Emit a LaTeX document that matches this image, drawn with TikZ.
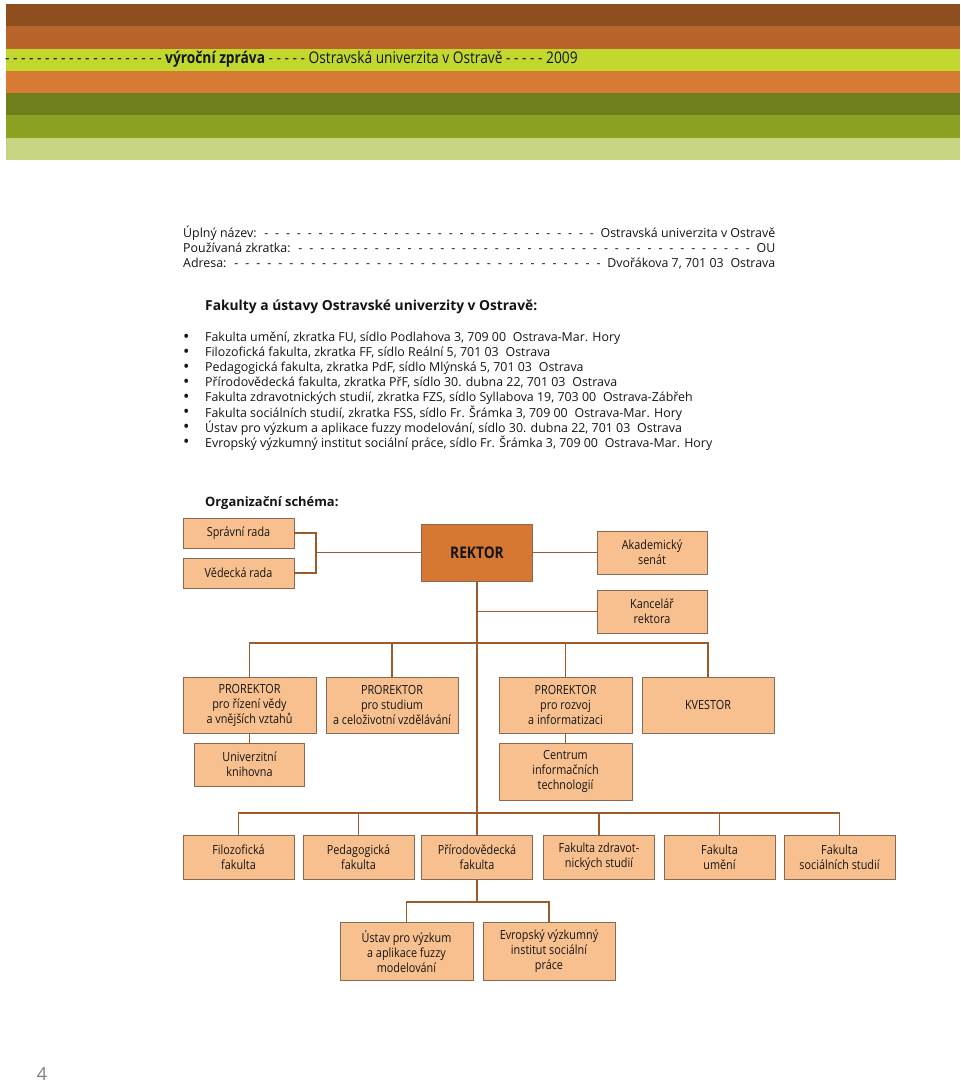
\documentclass[tikz,border=0pt]{standalone}
\usepackage{fontspec}
\setmainfont{Open Sans}
\newfontfamily\condfont[FakeStretch=0.86]{Open Sans}
\definecolor{BandA}{HTML}{8E4E1E}
\definecolor{BandB}{HTML}{B8652B}
\definecolor{BandC}{HTML}{C3D82F}
\definecolor{BandD}{HTML}{D77A33}
\definecolor{BandE}{HTML}{6E7F1B}
\definecolor{BandF}{HTML}{8CA222}
\definecolor{BandG}{HTML}{C7D582}
\definecolor{BoxFill}{HTML}{F9C08F}
\definecolor{BoxLine}{HTML}{8A6A55}
\definecolor{Link}{HTML}{9C5B2B}
\definecolor{Rektor}{HTML}{D77832}
\definecolor{Ink}{HTML}{141414}
\usetikzlibrary{arrows.meta}

\newcommand{\dashfill}{\xleaders\hbox to 10.7pt{\hss-\hss}\hfill}
\newcommand{\twosp}{\hspace{0.55em}}

\begin{document}
\begin{tikzpicture}[x=1pt,y=-1pt,
    box/.style={draw=BoxLine,fill=BoxFill,line width=0.8pt,align=center,inner sep=1pt,
        font=\condfont\fontsize{12.6}{15}\selectfont,text=Ink},
    link/.style={draw=Link,line width=1.4pt},
    line/.style={anchor=west,inner sep=0pt,text=Ink,font=\fontsize{12.4}{15}\selectfont}]
    \useasboundingbox (0,0) rectangle (960,1083);

    % Colour bands
    \foreach \c [count=\i from 0] in {BandA,BandB,BandC,BandD,BandE,BandF,BandG}
        \fill[\c] (6,{4+22.3*\i}) rectangle (960,{4+22.3*(\i+1)});
    \node[anchor=west,inner sep=0pt,text=Ink,font=\condfont\fontsize{16}{18}\selectfont] (title) at (5,59)
        {- - - - - - - - - - - - - - - - - - - - \textbf{výroční zpráva} - - - - - Ostravská univerzita v Ostravě - - - - - 2009};

    % Basic data
    \node[line] (fullname) at (183,233) {\hbox to 592pt{Úplný název: \dashfill\ Ostravská univerzita v Ostravě}};
    \node[line] (abbrev) at (183,248) {\hbox to 592pt{Používaná zkratka: \dashfill\ OU}};
    \node[line] (address) at (183,264) {\hbox to 592pt{Adresa: \dashfill\ Dvořákova 7, 701 03\twosp Ostrava}};

    % Faculties
    \node[line,font=\bfseries\fontsize{13.8}{15}\selectfont] (facultiestitle) at (205,307) {Fakulty a ústavy Ostravské univerzity v Ostravě:};
    \foreach \t [count=\i from 0] in {
        {Fakulta umění, zkratka FU, sídlo Podlahova 3, 709 00\twosp Ostrava-Mar. Hory},
        {Filozofická fakulta, zkratka FF, sídlo Reální 5, 701 03\twosp Ostrava},
        {Pedagogická fakulta, zkratka PdF, sídlo Mlýnská 5, 701 03\twosp Ostrava},
        {Přírodovědecká fakulta, zkratka PřF, sídlo 30. dubna 22, 701 03\twosp Ostrava},
        {Fakulta zdravotnických studií, zkratka FZS, sídlo Syllabova 19, 703 00\twosp Ostrava-Zábřeh},
        {Fakulta sociálních studií, zkratka FSS, sídlo Fr. Šrámka 3, 709 00\twosp Ostrava-Mar. Hory},
        {Ústav pro výzkum a aplikace fuzzy modelování, sídlo 30. dubna 22, 701 03\twosp Ostrava},
        {Evropský výzkumný institut sociální práce, sídlo Fr. Šrámka 3, 709 00\twosp Ostrava-Mar. Hory}} {
        \node[line,font=\fontsize{17}{15}\selectfont] (bullet\i) at (183,{338+15*\i}) {\textbullet};
        \node[line] (faculty\i) at (205,{338+15*\i}) {\t};
    }

    % Organisation chart
    \node[line,font=\bfseries\fontsize{12.9}{15}\selectfont] (charttitle) at (205,503) {Organizační schéma:};

    \node[box,minimum width=111pt,minimum height=30pt] (spr) at (238.5,533) {Správní rada};
    \node[box,minimum width=111pt,minimum height=30pt] (ved) at (238.5,573) {Vědecká rada};
    \node[box,fill=Rektor,minimum width=111pt,minimum height=57pt,
        font=\condfont\bfseries\fontsize{16}{18}\selectfont] (rek) at (477,552.5) {REKTOR};
    \node[box,minimum width=110pt,minimum height=43pt] (aka) at (652,552.5) {Akademický\\senát};
    \node[box,minimum width=110pt,minimum height=43pt] (kan) at (652,611.5) {Kancelář\\rektora};

    \node[box,minimum width=133pt,minimum height=56pt] (pr1) at (249.5,705) {PROREKTOR\\pro řízení vědy\\a vnějších vztahů};
    \node[box,minimum width=132pt,minimum height=56pt] (pr2) at (392,705) {PROREKTOR\\pro studium\\a celoživotní vzdělávání};
    \node[box,minimum width=133pt,minimum height=56pt] (pr3) at (565.5,705) {PROREKTOR\\pro rozvoj\\a informatizaci};
    \node[box,minimum width=132pt,minimum height=56pt] (kve) at (708,705) {KVESTOR};
    \node[box,minimum width=110pt,minimum height=43pt] (kni) at (249.5,764.5) {Univerzitní\\knihovna};
    \node[box,minimum width=133pt,minimum height=57pt] (cit) at (565.5,771.5) {Centrum\\informačních\\technologií};

    \node[box,minimum width=111pt,minimum height=44pt] (ff) at (238.5,857) {Filozofická\\fakulta};
    \node[box,minimum width=111pt,minimum height=44pt] (pdf) at (358.5,857) {Pedagogická\\fakulta};
    \node[box,minimum width=111pt,minimum height=44pt] (prf) at (477,857) {Přírodovědecká\\fakulta};
    \node[box,minimum width=111pt,minimum height=44pt] (fzs) at (599,857) {Fakulta zdravot-\\nických studií};
    \node[box,minimum width=111pt,minimum height=44pt] (fu) at (719.5,857) {Fakulta\\umění};
    \node[box,minimum width=111pt,minimum height=44pt] (fss) at (839.5,857) {Fakulta\\sociálních studií};

    \node[box,minimum width=133pt,minimum height=58pt] (ufm) at (406.5,951.5) {Ústav pro výzkum\\a aplikace fuzzy\\modelování};
    \node[box,minimum width=132pt,minimum height=58pt] (evr) at (549,951.5) {Evropský výzkumný\\institut sociální\\práce};

    % Connectors
    \coordinate (brk) at (316,552.5);
    \coordinate (pbus) at (477,643);
    \coordinate (fbus) at (477,813);
    \coordinate (ubus) at (477,902);
    \draw[link] (spr.east) -| (brk) |- (ved.east);
    \draw[link] (brk) -- (rek.west);
    \draw[link] (rek.east) -- (aka.west);
    \draw[link] (rek.south) -- (fbus);
    \draw[link] (rek.south |- kan.west) -- (kan.west);
    \draw[link] (pr1.north) |- (pbus) -| (kve.north);
    \draw[link] (pr2.north) -- (pr2.north |- pbus);
    \draw[link] (pr3.north) -- (pr3.north |- pbus);
    \draw[link] (pr1.south) -- (kni.north);
    \draw[link] (pr3.south) -- (cit.north);
    \draw[link] (ff.north) |- (fbus) -| (fss.north);
    \foreach \n in {pdf,prf,fzs,fu}
        \draw[link] (\n.north) -- (\n.north |- fbus);
    \draw[link] (prf.south) -- (ubus);
    \draw[link] (ufm.north) |- (ubus) -| (evr.north);

    % Page number
    \node[anchor=base,inner sep=0pt,text=gray,font=\fontsize{18}{20}\selectfont] (page) at (42,1080) {4};
\end{tikzpicture}
\end{document}
